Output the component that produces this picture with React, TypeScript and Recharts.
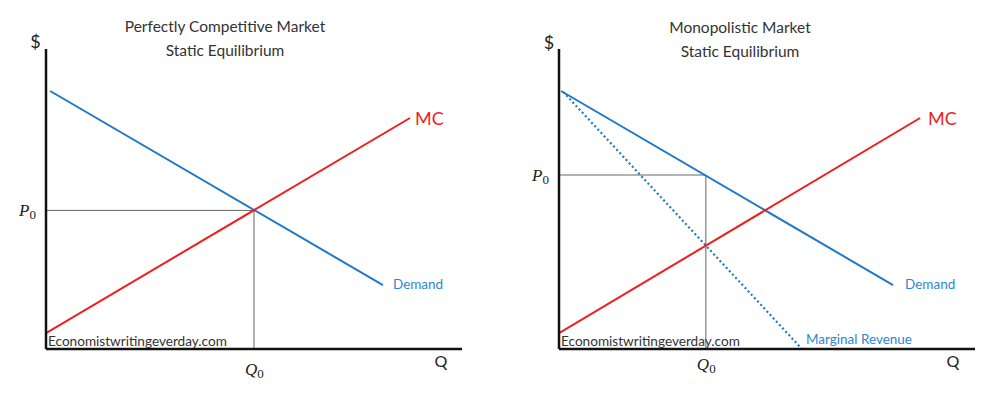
import React from 'react';
import { LineChart, Line, XAxis, YAxis, LabelList } from 'recharts';

// ---- data (Q on x, $ on y, both 0..100 units) ----
const perfectDemand = [{ q: 1, p: 86 }, { q: 81, p: 21.3 }];
const perfectMC = [{ q: 0, p: 5.3 }, { q: 87.5, p: 77 }];
const perfectEq = { q: 50, p: 46.2 };

const monoDemand = [{ q: 0.5, p: 86 }, { q: 80.3, p: 21.3 }];
const monoMR = [{ q: 1, p: 85.7 }, { q: 58.4, p: 0 }];
const monoMC = [{ q: 0, p: 5.3 }, { q: 86.8, p: 77 }];
const monoEq = { q: 35.3, p: 58 };

const titlesLeft = ['Perfectly Competitive Market', 'Static Equilibrium'];
const titlesRight = ['Monopolistic Market', 'Static Equilibrium'];
const watermark = 'Economistwritingeverday.com';

const BLUE = '#1f78c8';
const BLUE_TEXT = '#2d87d2';
const RED = '#f21c1c';
const SANS = 'Lato, "Open Sans", sans-serif';
const SERIF = '"Liberation Serif", "DejaVu Serif", serif';

const AXIS_W = 30;
const AXIS_H = 30;

const guide = (eq: { q: number; p: number }) => [
  { q: 0, p: eq.p },
  { q: eq.q, p: eq.p },
  { q: eq.q, p: 0 },
];

const YTick = (props: any) => {
  const { x, y } = props;
  return (
    <text x={x - 2} y={y + 6} textAnchor="end" fontFamily={SERIF} fontSize={17} fill="#222">
      <tspan fontStyle="italic">P</tspan>
      <tspan fontSize={13} dy={3}>0</tspan>
    </text>
  );
};

const XTick = (dy: number) => (props: any) => {
  const { x, y } = props;
  return (
    <text x={x - 9} y={y + dy} textAnchor="start" fontFamily={SERIF} fontSize={17} fill="#222">
      <tspan fontStyle="italic">Q</tspan>
      <tspan fontSize={13} dy={3}>0</tspan>
    </text>
  );
};

const endLabel = (text: string, color: string, size: number, dx: number, dy: number) => (props: any) => {
  const { x, y, index } = props;
  if (index !== 1) return null;
  return (
    <text x={x + dx} y={y + dy} fill={color} fontSize={size} fontFamily={SANS}>
      {text}
    </text>
  );
};

type PanelProps = {
  left: number;
  width: number;
  margin: { top: number; right: number; bottom: number; left: number };
  demand: { q: number; p: number }[];
  mc: { q: number; p: number }[];
  mr?: { q: number; p: number }[];
  eq: { q: number; p: number };
  demandDx: number;
  mcDx: number;
  q0dy: number;
};

const Panel = ({ left, width, margin, demand, mc, mr, eq, demandDx, mcDx, q0dy }: PanelProps) => (
  <div style={{ position: 'absolute', left, top: 0 }}>
    <LineChart width={width} height={415} margin={margin}>
      <XAxis
        type="number"
        dataKey="q"
        domain={[0, 100]}
        ticks={[eq.q]}
        tick={XTick(q0dy)}
        tickLine={false}
        height={AXIS_H}
        axisLine={{ stroke: '#111', strokeWidth: 2.5 }}
        allowDataOverflow
        interval={0}
      />
      <YAxis
        type="number"
        dataKey="p"
        domain={[0, 100]}
        ticks={[eq.p]}
        tick={<YTick />}
        tickLine={false}
        width={AXIS_W}
        axisLine={{ stroke: '#111', strokeWidth: 2.5 }}
        allowDataOverflow
        interval={0}
      />
      <Line data={guide(eq)} dataKey="p" stroke="#666" strokeWidth={1} dot={false} isAnimationActive={false} />
      {mr && (
        <Line data={mr} dataKey="p" stroke={BLUE} strokeWidth={2.2} strokeDasharray="2 2.6" dot={false} isAnimationActive={false}>
          <LabelList dataKey="p" content={endLabel('Marginal Revenue', BLUE_TEXT, 13.5, 4, -5)} />
        </Line>
      )}
      <Line data={demand} dataKey="p" stroke={BLUE} strokeWidth={2} dot={false} isAnimationActive={false}>
        <LabelList dataKey="p" content={endLabel('Demand', BLUE_TEXT, 13.5, demandDx, 4)} />
      </Line>
      <Line data={mc} dataKey="p" stroke={RED} strokeWidth={2} dot={false} isAnimationActive={false}>
        <LabelList dataKey="p" content={endLabel('MC', RED, 18, mcDx, 7)} />
      </Line>
    </LineChart>
  </div>
);

export default function App() {
  return (
    <div style={{ position: 'absolute', left: 0, top: 0, width: 987, height: 415, background: '#fff' }}>
      <Panel
        left={0}
        width={493}
        margin={{ top: 49, right: 31, bottom: 66 - AXIS_H, left: 46 - AXIS_W }}
        demand={perfectDemand}
        mc={perfectMC}
        eq={perfectEq}
        demandDx={10}
        mcDx={5}
        q0dy={18}
      />
      <Panel
        left={493}
        width={494}
        margin={{ top: 49, right: 12, bottom: 66 - AXIS_H, left: 66 - AXIS_W }}
        demand={monoDemand}
        mc={monoMC}
        mr={monoMR}
        eq={monoEq}
        demandDx={12}
        mcDx={8}
        q0dy={13}
      />
      <svg width={987} height={415} style={{ position: 'absolute', left: 0, top: 0, pointerEvents: 'none' }}>
        <g fontFamily={SANS} fill="#333" fontSize={15.5} textAnchor="middle">
          <text x={225} y={32}>{titlesLeft[0]}</text>
          <text x={225} y={56}>{titlesLeft[1]}</text>
          <text x={740} y={33}>{titlesRight[0]}</text>
          <text x={740} y={57}>{titlesRight[1]}</text>
        </g>
        <g fontFamily={SANS} fill="#222" fontSize={18} textAnchor="middle">
          <text x={35.5} y={48}>$</text>
          <text x={549} y={49}>$</text>
        </g>
        <g fontFamily={SANS} fill="#222" fontSize={16} textAnchor="middle">
          <text x={441} y={367}>Q</text>
          <text x={953} y={367}>Q</text>
        </g>
        <g fontFamily={SANS} fill="#333" fontSize={13.6}>
          <text x={48} y={345.5}>{watermark}</text>
          <text x={561} y={345.5}>{watermark}</text>
        </g>
      </svg>
    </div>
  );
}
